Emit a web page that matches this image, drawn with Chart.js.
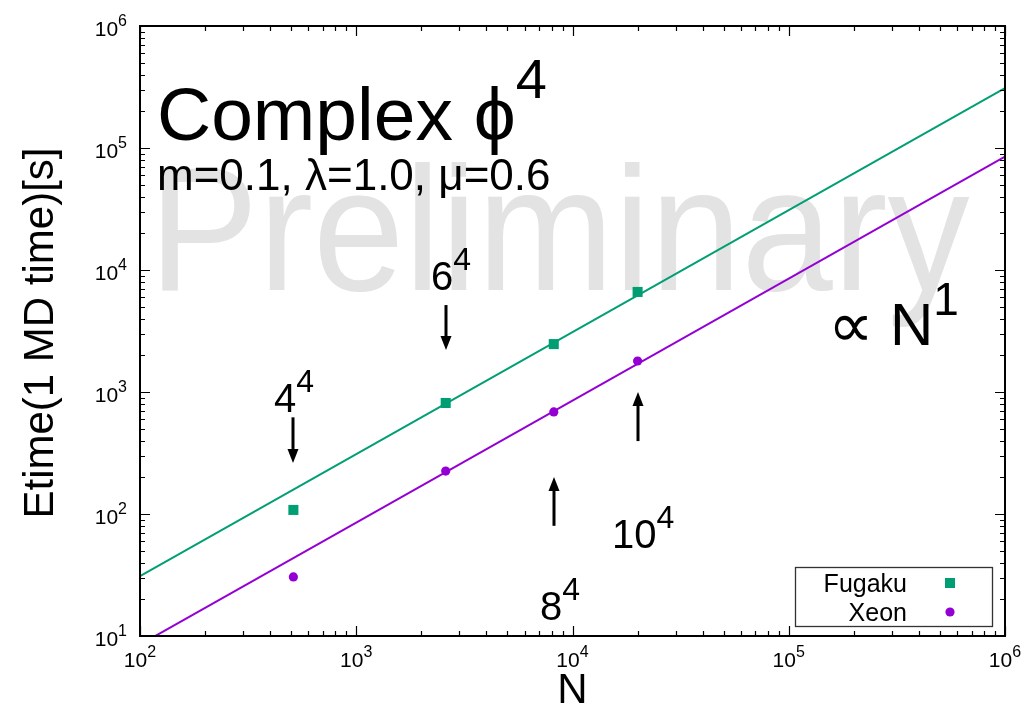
<!DOCTYPE html>
<html lang="en">
<head>
<meta charset="UTF-8">
<title>Complex phi^4 timing</title>
<script src="https://cdn.jsdelivr.net/npm/chart.js"></script>
<style>
  html, body { margin: 0; padding: 0; background: #fff; overflow: hidden; }
  #wrap { position: relative; width: 1026px; height: 705px; }
</style>
</head>
<body>
<div id="wrap"><canvas id="timing"></canvas></div>
<script>
// lattice sizes: N = 2 * L^4 (two real components)
const latticeN = [512, 2592, 8192, 20000];
const fugakuTime = [108, 813, 2470, 6610];
const xeonTime = [30.5, 225, 686, 1795];

// N^1 fit lines, end points at N = 1e2 and 1e6
const fitN = [100, 1000000];
const fugakuFit = [31, 310000];
const xeonFit = [8.5, 85000];

const xTicks = [2, 3, 4, 5, 6];
const yTicks = [1, 2, 3, 4, 5, 6];

// arrows: [N, tail time, head time]
const arrows = [
  [512, 620, 262],
  [2592, 5160, 2210],
  [8192, 80, 201],
  [20000, 396, 1000]
];

const GREEN = '#009e73';
const PURPLE = '#9400d3';
const FONT = '"Liberation Sans", Arial, "DejaVu Sans", sans-serif';

const pts = (xs, ys) => xs.map((x, i) => ({ x: x, y: ys[i] }));

// text with a superscript; align: 'left' | 'center' | 'right' for the whole thing
function drawPow(ctx, base, exp, x, y, size, supSize, rise, align) {
  ctx.font = size + 'px ' + FONT;
  const wb = ctx.measureText(base).width;
  ctx.font = supSize + 'px ' + FONT;
  const we = ctx.measureText(exp).width;
  let left = x;
  if (align === 'center') left = x - (wb + we) / 2;
  if (align === 'right') left = x - (wb + we);
  ctx.textAlign = 'left';
  ctx.textBaseline = 'alphabetic';
  ctx.font = size + 'px ' + FONT;
  ctx.fillText(base, left, y);
  ctx.font = supSize + 'px ' + FONT;
  ctx.fillText(exp, left + wb, y - rise);
}

function arrow(ctx, x, y0, y1) {
  const dir = y1 > y0 ? 1 : -1;
  const head = 14;
  ctx.strokeStyle = '#000';
  ctx.lineWidth = 3;
  ctx.beginPath();
  ctx.moveTo(x, y0);
  ctx.lineTo(x, y1 - dir * head);
  ctx.stroke();
  ctx.fillStyle = '#000';
  ctx.beginPath();
  ctx.moveTo(x, y1);
  ctx.lineTo(x - 5.5, y1 - dir * head);
  ctx.lineTo(x + 5.5, y1 - dir * head);
  ctx.closePath();
  ctx.fill();
}

const watermark = {
  id: 'watermark',
  beforeDatasetsDraw(chart) {
    const ctx = chart.ctx;
    ctx.save();
    ctx.fillStyle = '#e3e3e3';
    ctx.font = '177px ' + FONT;
    ctx.textAlign = 'left';
    ctx.textBaseline = 'alphabetic';
    ctx.translate(149, 290);
    ctx.scale(0.927, 1);
    ctx.fillText('Preliminary', 0, 0);
    ctx.restore();
  }
};

const frame = {
  id: 'frame',
  afterDraw(chart) {
    const ctx = chart.ctx;
    const a = chart.chartArea;
    const xs = chart.scales.x, ys = chart.scales.y;
    ctx.save();

    // ticks on all four sides, pointing inward
    ctx.strokeStyle = '#000';
    ctx.lineWidth = 1.2;
    ctx.beginPath();
    for (let d = 2; d <= 6; d++) {
      for (let m = 1; m <= 9; m++) {
        const v = m * Math.pow(10, d);
        if (v > 1e6) break;
        const px = Math.round(xs.getPixelForValue(v)) + 0.5;
        const len = m === 1 ? 10 : 5;
        ctx.moveTo(px, a.bottom); ctx.lineTo(px, a.bottom - len);
        ctx.moveTo(px, a.top); ctx.lineTo(px, a.top + len);
      }
    }
    for (let d = 1; d <= 6; d++) {
      for (let m = 1; m <= 9; m++) {
        const v = m * Math.pow(10, d);
        if (v > 1e6) break;
        const py = Math.round(ys.getPixelForValue(v)) + 0.5;
        const len = m === 1 ? 10 : 5;
        ctx.moveTo(a.left, py); ctx.lineTo(a.left + len, py);
        ctx.moveTo(a.right, py); ctx.lineTo(a.right - len, py);
      }
    }
    ctx.stroke();

    // plot border
    ctx.lineWidth = 2;
    ctx.strokeRect(a.left, a.top, a.right - a.left, a.bottom - a.top);

    // tick labels
    ctx.fillStyle = '#000';
    xTicks.forEach(e => {
      drawPow(ctx, '10', String(e), xs.getPixelForValue(Math.pow(10, e)), a.bottom + 31, 21, 16, 10, 'center');
    });
    yTicks.forEach(e => {
      drawPow(ctx, '10', String(e), a.left - 13, ys.getPixelForValue(Math.pow(10, e)) + 10, 21, 16, 10, 'right');
    });

    // axis titles
    ctx.font = '42px ' + FONT;
    ctx.textAlign = 'center';
    ctx.textBaseline = 'alphabetic';
    ctx.fillText('N', (a.left + a.right) / 2, 703);
    ctx.save();
    ctx.translate(53, 333);
    ctx.rotate(-Math.PI / 2);
    ctx.fillText('Etime(1 MD time)[s]', 0, 0);
    ctx.restore();

    // titles inside the plot
    drawPow(ctx, 'Complex ϕ', '4', 157, 140, 75, 56, 42, 'left');
    ctx.font = '44px ' + FONT;
    ctx.textAlign = 'left';
    ctx.fillText('m=0.1, λ=1.0, μ=0.6', 157, 190);
    ctx.font = '64px ' + FONT;
    ctx.fillText('∝', 828, 347);
    drawPow(ctx, 'N', '1', 890, 345, 60, 46, 30, 'left');

    // lattice size labels and arrows
    drawPow(ctx, '4', '4', 274, 412, 40, 32, 20, 'left');
    drawPow(ctx, '6', '4', 431, 290, 40, 32, 20, 'left');
    drawPow(ctx, '8', '4', 540, 620, 40, 32, 20, 'left');
    drawPow(ctx, '10', '4', 612, 548, 40, 32, 20, 'left');
    arrows.forEach(([n, t0, t1]) => {
      arrow(ctx, Math.round(xs.getPixelForValue(n)), ys.getPixelForValue(t0), ys.getPixelForValue(t1));
    });

    // key
    ctx.fillStyle = '#fff';
    ctx.fillRect(795, 567, 198, 60);
    ctx.strokeStyle = '#333';
    ctx.lineWidth = 1.3;
    ctx.strokeRect(795.5, 567.5, 197, 59);
    ctx.fillStyle = '#000';
    ctx.font = '25px ' + FONT;
    ctx.textAlign = 'right';
    ctx.fillText('Fugaku', 907, 592);
    ctx.fillText('Xeon', 907, 621);
    ctx.fillStyle = GREEN;
    ctx.fillRect(945, 578, 10, 10);
    ctx.fillStyle = PURPLE;
    ctx.beginPath();
    ctx.arc(950, 612, 4.6, 0, Math.PI * 2);
    ctx.fill();

    ctx.restore();
  }
};

new Chart(document.getElementById('timing'), {
  type: 'scatter',
  data: {
    datasets: [
      {
        label: 'Fugaku fit',
        data: pts(fitN, fugakuFit),
        showLine: true,
        borderColor: GREEN,
        borderWidth: 2,
        pointRadius: 0,
        order: 3
      },
      {
        label: 'Xeon fit',
        data: pts(fitN, xeonFit),
        showLine: true,
        borderColor: PURPLE,
        borderWidth: 2,
        pointRadius: 0,
        order: 4
      },
      {
        label: 'Fugaku',
        data: pts(latticeN, fugakuTime),
        pointStyle: 'rect',
        pointRadius: 7.1,
        backgroundColor: GREEN,
        borderWidth: 0,
        order: 1
      },
      {
        label: 'Xeon',
        data: pts(latticeN, xeonTime),
        pointStyle: 'circle',
        pointRadius: 4.6,
        backgroundColor: PURPLE,
        borderWidth: 0,
        order: 2
      }
    ]
  },
  options: {
    responsive: true,
    maintainAspectRatio: false,
    animation: false,
    layout: { padding: { left: 140, right: 21, top: 26, bottom: 69 } },
    plugins: {
      legend: { display: false },
      tooltip: { enabled: false }
    },
    scales: {
      x: { type: 'logarithmic', min: 100, max: 1000000, display: false },
      y: { type: 'logarithmic', min: 10, max: 1000000, display: false }
    }
  },
  plugins: [watermark, frame]
});
</script>
</body>
</html>
